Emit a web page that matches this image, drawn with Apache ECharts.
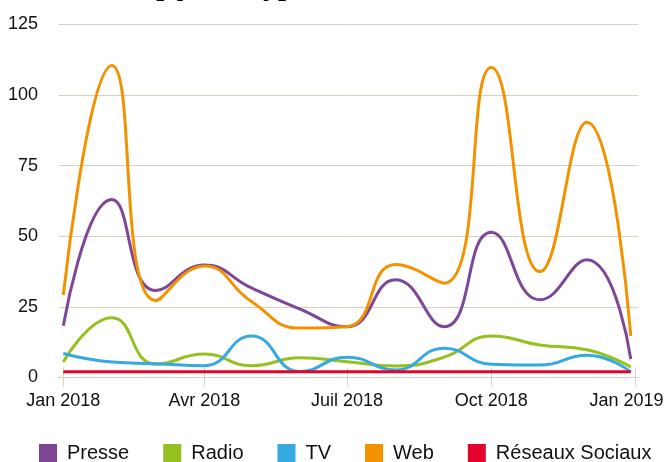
<!DOCTYPE html>
<html lang="fr">
<head>
    <meta charset="UTF-8">
    <title>Retombées</title>
    <style>
        html, body {
            margin: 0;
            padding: 0;
            background: #fff;
        }
        #main {
            width: 667px;
            height: 462px;
        }
    </style>
</head>
<body>
<div id="main"></div>
<script src="https://cdn.jsdelivr.net/npm/echarts@6/dist/echarts.min.js"></script>
<script>
    // dates des points (début de chaque mois + fin d'année)
    var dates = ['2018-01-01', '2018-02-01', '2018-03-01', '2018-04-01', '2018-05-01', '2018-06-01',
        '2018-07-01', '2018-08-01', '2018-09-01', '2018-10-01', '2018-11-01', '2018-12-01', '2018-12-29'];

    var presse = [18.3, 63, 30.8, 39.8, 31.7, 24.2, 18, 34.6, 18, 51.4, 27.5, 41.7, 6.5];
    var radio = [5.5, 21.2, 4.7, 8.3, 4.2, 7.0, 5.6, 4.1, 7.2, 14.7, 11.5, 9.8, 3.7];
    var tv = [8.5, 5.5, 4.9, 4.2, 14.7, 2.1, 7.2, 2.7, 10.4, 4.7, 4.4, 7.9, 2.0];
    var web = [29.2, 110.5, 27.2, 39.5, 26.9, 17.5, 18, 40, 33.4, 109.8, 37.5, 90.4, 14.7];
    var reseaux = [2, 2, 2, 2, 2, 2, 2, 2, 2, 2, 2, 2, 2];

    var tickDates = ['2018-01-01', '2018-04-01', '2018-07-01', '2018-10-01', '2019-01-01'];
    var tickLabels = ['Jan 2018', 'Avr 2018', 'Juil 2018', 'Oct 2018', 'Jan 2019'];

    var seriesNames = ['Presse', 'Radio', 'TV', 'Web', 'Réseaux Sociaux'];
    var seriesData = [presse, radio, tv, web, reseaux];
    var colors = ['#7e4696', '#95c11f', '#36a9e1', '#f39200', '#e4032e'];

    // date locale -> nombre de jours depuis le 1er janvier 2018
    var t0 = new Date(2018, 0, 1).getTime();
    function day(s) {
        var p = s.split('-');
        return Math.round((new Date(+p[0], p[1] - 1, +p[2]).getTime() - t0) / 86400000);
    }

    var tickValues = tickDates.map(day);
    var lastTick = tickValues[tickValues.length - 1];
    var labelOf = {};
    tickValues.forEach(function (v, i) {
        labelOf[v] = tickLabels[i];
    });

    var font = 'Liberation Sans, Arial, Helvetica, sans-serif';
    var lineCol = '#d9d0c1';

    var chart = echarts.init(document.getElementById('main'));

    var option = {
        animation: false,
        backgroundColor: '#fff',
        color: colors,
        title: {
            text: '[Quantity]',
            left: 150,
            top: -32,
            textStyle: {fontFamily: font, fontSize: 28, fontWeight: 'bold', color: '#000'}
        },
        legend: {
            data: seriesNames,
            left: 39,
            top: 443,
            padding: 0,
            icon: 'rect',
            itemWidth: 18,
            itemHeight: 18,
            itemGap: 34,
            textStyle: {fontFamily: font, fontSize: 20, color: '#111', padding: [0, 0, 0, 5]}
        },
        grid: [
            // grille de fond (lignes horizontales, un peu plus large)
            {left: 58.5, right: 29, top: 24.5, bottom: 84.5, outerBoundsMode: 'none'},
            // grille des données
            {left: 63.3, right: 31.5, top: 24.5, bottom: 84.5, outerBoundsMode: 'none'}
        ],
        xAxis: [
            {
                gridIndex: 0, type: 'value', min: 0, max: 1,
                axisLine: {show: true, lineStyle: {color: lineCol, width: 1}},
                axisTick: {show: false}, axisLabel: {show: false}, splitLine: {show: false}
            },
            {
                gridIndex: 1, type: 'value',
                min: 0, max: lastTick,
                axisLine: {show: false},
                axisTick: {show: true, customValues: tickValues, length: 9, lineStyle: {color: lineCol}},
                axisLabel: {
                    customValues: tickValues,
                    margin: 15,
                    fontFamily: font,
                    fontSize: 18,
                    color: '#111',
                    showMinLabel: true,
                    showMaxLabel: true,
                    hideOverlap: false,
                    formatter: function (v) {
                        // le dernier libellé est décalé pour rester dans le cadre
                        if (v === lastTick) return '{last|' + labelOf[v] + '}';
                        return labelOf[v] || '';
                    },
                    rich: {
                        last: {fontFamily: font, fontSize: 18, color: '#111', padding: [0, 18, 0, 0]}
                    }
                },
                splitLine: {show: false}
            },
            {
                // petits traits au-dessus de l'axe
                gridIndex: 1, type: 'value',
                min: 0, max: lastTick,
                position: 'bottom',
                axisLine: {show: false},
                axisTick: {show: true, inside: true, customValues: tickValues, length: 10, lineStyle: {color: lineCol}},
                axisLabel: {show: false},
                splitLine: {show: false}
            }
        ],
        yAxis: [
            {
                gridIndex: 0, type: 'value', min: 0, max: 125, interval: 25,
                axisLine: {show: false}, axisTick: {show: false},
                axisLabel: {
                    margin: 20.5, fontFamily: font, fontSize: 18, color: '#111',
                    padding: [0, 0, 10, 0]
                },
                splitLine: {lineStyle: {color: lineCol, width: 1}}
            },
            {
                gridIndex: 1, type: 'value', min: 0, max: 125, interval: 25,
                axisLine: {show: false}, axisTick: {show: false},
                axisLabel: {show: false}, splitLine: {show: false}
            }
        ],
        series: seriesNames.map(function (name, i) {
            return {
                name: name,
                type: 'line',
                xAxisIndex: 1,
                yAxisIndex: 1,
                smooth: 0.5,
                showSymbol: false,
                symbol: 'none',
                lineStyle: {width: 3, color: colors[i]},
                data: dates.map(function (d, j) {
                    return [day(d), seriesData[i][j]];
                })
            };
        })
    };

    chart.setOption(option);
</script>
</body>
</html>
